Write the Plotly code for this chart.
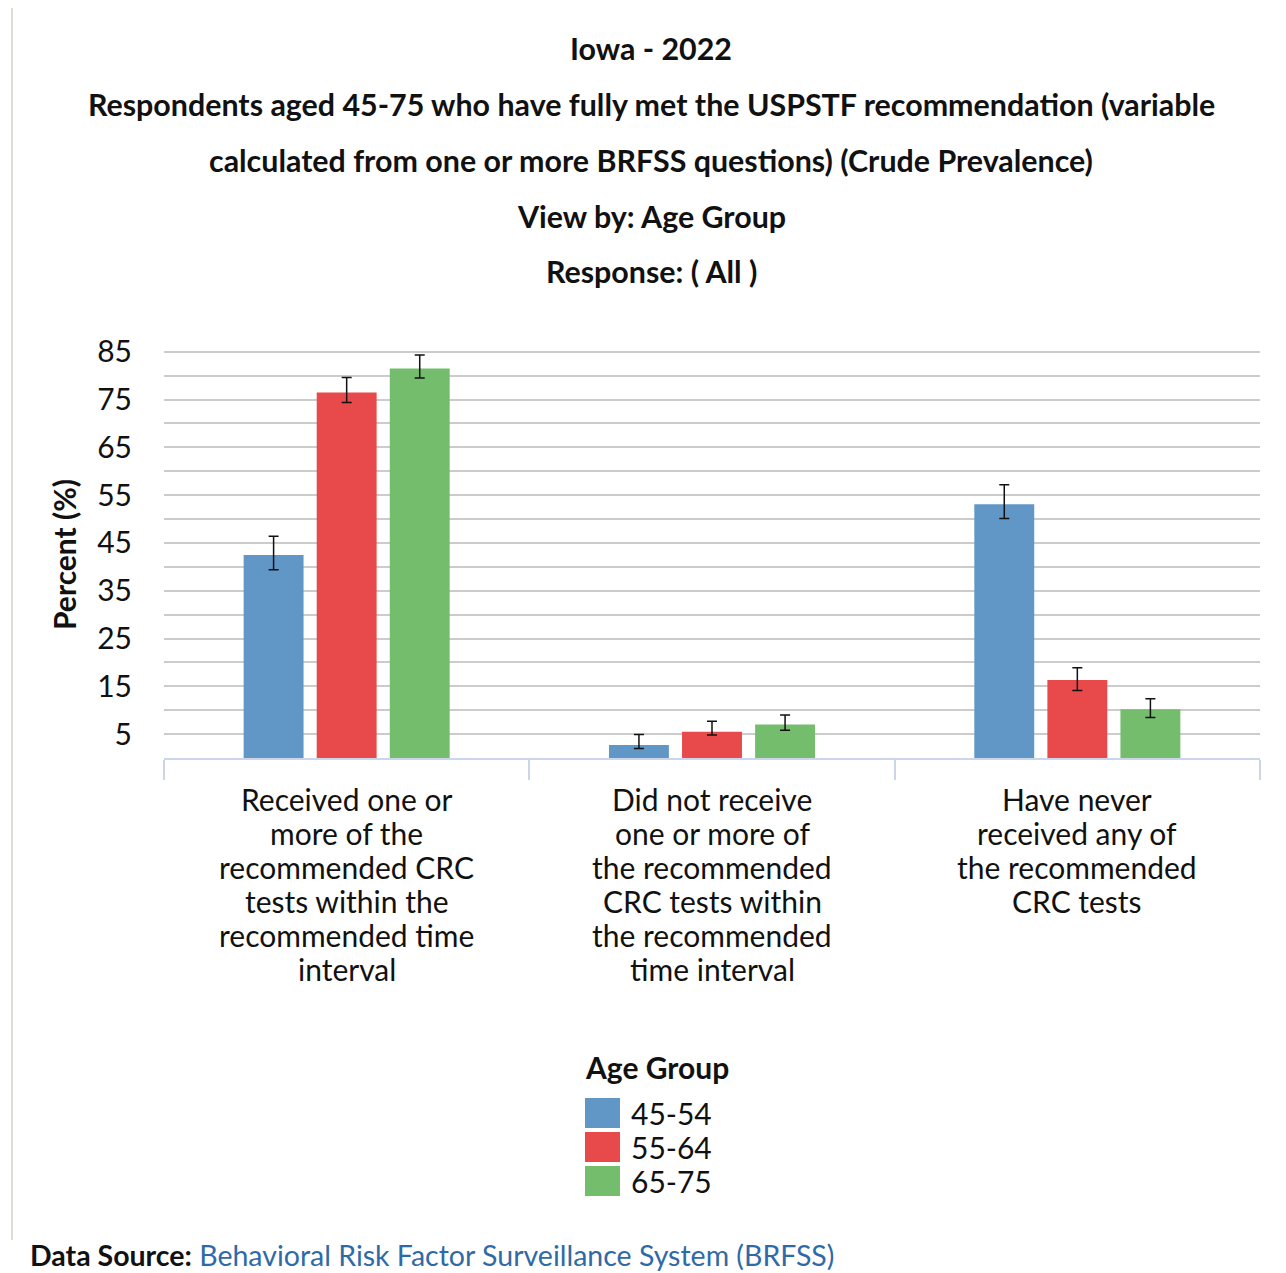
import plotly.graph_objects as go

categories = [
    "Received one or<br>more of the<br>recommended CRC<br>tests within the<br>recommended time<br>interval",
    "Did not receive<br>one or more of<br>the recommended<br>CRC tests within<br>the recommended<br>time interval",
    "Have never<br>received any of<br>the recommended<br>CRC tests",
]
series_names = ["45-54", "55-64", "65-75"]
values_45_54 = [42.5, 2.7, 53.1]
values_55_64 = [76.5, 5.5, 16.3]
values_65_75 = [81.5, 7.0, 10.2]
ci_low_45_54 = [39.4, 2.0, 50.1]
ci_high_45_54 = [46.4, 4.9, 57.2]
ci_low_55_64 = [74.4, 4.8, 14.1]
ci_high_55_64 = [79.6, 7.7, 18.9]
ci_low_65_75 = [79.5, 5.8, 8.5]
ci_high_65_75 = [84.3, 9.0, 12.4]
colors = ["#6097c6", "#e8494b", "#74bd6c"]
y_tickvals = [5, 10, 15, 20, 25, 30, 35, 40, 45, 50, 55, 60, 65, 70, 75, 80, 85]
y_ticktext = ["5", "", "15", "", "25", "", "35", "", "45", "", "55", "", "65", "", "75", "", "85"]

title_lines = [
    "Iowa - 2022",
    "Respondents aged 45-75 who have fully met the USPSTF recommendation (variable",
    "calculated from one or more BRFSS questions) (Crude Prevalence)",
    "View by: Age Group",
    "Response: ( All )",
]

OFF = 8  # page body margin
W, H = 1286 - OFF, 1273 - OFF
# plot area in page pixels
PL, PR, PT, PB = 164, 1260, 347, 758
L, R, T, B = PL - OFF, PR - OFF, PT - OFF, PB - OFF
FONT = "Lato"
TXT = "#111111"


def px(p):
    return (p - PL) / (PR - PL)


def py(p):
    return (PB - p) / (PB - PT)


all_values = [values_45_54, values_55_64, values_65_75]
all_low = [ci_low_45_54, ci_low_55_64, ci_low_65_75]
all_high = [ci_high_45_54, ci_high_55_64, ci_high_65_75]

fig = go.Figure()
for name, vals, lo, hi, col in zip(series_names, all_values, all_low, all_high, colors):
    fig.add_trace(go.Bar(
        x=categories, y=vals, name=name,
        marker=dict(color=col, line=dict(width=0)),
        error_y=dict(
            type="data", symmetric=False,
            array=[h - v for h, v in zip(hi, vals)],
            arrayminus=[v - l for v, l in zip(vals, lo)],
            color="#111111", thickness=1.5, width=5,
        ),
        showlegend=False,
    ))

annotations = []
title_y = [48, 104, 160, 216, 271]
for txt, yy in zip(title_lines, title_y):
    annotations.append(dict(
        text="<b>" + txt + "</b>", x=px(651), y=py(yy), xref="paper", yref="paper",
        xanchor="center", yanchor="middle", showarrow=False,
        font=dict(family=FONT, size=30.4, color=TXT),
    ))

annotations.append(dict(
    text="<b>Percent (%)</b>", x=px(64), y=py(555), xref="paper", yref="paper",
    xanchor="center", yanchor="middle", showarrow=False, textangle=-90,
    font=dict(family=FONT, size=30, color=TXT),
))

# category labels, one annotation per line for tight line spacing
for cat in categories:
    for i, line in enumerate(cat.split("<br>")):
        annotations.append(dict(
            text=line, x=cat, y=py(799 + 34 * i), xref="x", yref="paper",
            xanchor="center", yanchor="middle", showarrow=False,
            font=dict(family=FONT, size=30, color=TXT),
        ))

# legend (custom, larger swatches)
annotations.append(dict(
    text="<b>Age Group</b>", x=px(583), y=py(1067), xref="paper", yref="paper",
    xanchor="left", yanchor="middle", showarrow=False,
    font=dict(family=FONT, size=30, color=TXT),
))
shapes = []
leg_y = [1113, 1147, 1181]
for name, col, yy in zip(series_names, colors, leg_y):
    shapes.append(dict(type="rect", xref="paper", yref="paper",
                       x0=px(585), x1=px(620), y0=py(yy + 15), y1=py(yy - 15),
                       fillcolor=col, line=dict(width=0)))
    annotations.append(dict(
        text=name, x=px(629), y=py(yy), xref="paper", yref="paper",
        xanchor="left", yanchor="middle", showarrow=False,
        font=dict(family=FONT, size=30, color=TXT),
    ))

annotations.append(dict(
    text="<b>Data Source:</b> <span style='color:#2f6aa8'>Behavioral Risk Factor Surveillance System (BRFSS)</span>",
    x=px(28), y=py(1255), xref="paper", yref="paper",
    xanchor="left", yanchor="middle", showarrow=False,
    font=dict(family=FONT, size=28.5, color=TXT),
))

# page border on left
shapes.append(dict(type="line", xref="paper", yref="paper",
                   x0=px(12), x1=px(12), y0=py(OFF), y1=py(1240),
                   line=dict(color="#dedbd2", width=2)))

fig.update_layout(
    width=W, height=H,
    margin=dict(l=L, r=W - R, t=T, b=H - B, pad=0),
    paper_bgcolor="white", plot_bgcolor="white",
    barmode="group", bargap=0.4, bargroupgap=0.18,
    font=dict(family=FONT, color=TXT),
    annotations=annotations, shapes=shapes,
    showlegend=False,
)
fig.update_xaxes(
    type="category", showgrid=False, showline=True, linecolor="#ccd6eb", linewidth=2,
    ticks="outside", tickson="boundaries", ticklen=20, tickcolor="#ccd6eb", tickwidth=2,
    showticklabels=False,
)
fig.update_yaxes(
    range=[0, 86], tickvals=y_tickvals, ticktext=y_ticktext,
    showgrid=True, gridcolor="#cccccc", gridwidth=2, zeroline=False, showline=False,
    ticks="", ticklabelstandoff=31,
    tickfont=dict(family=FONT, size=30, color=TXT),
)

fig.write_html("out.html")
